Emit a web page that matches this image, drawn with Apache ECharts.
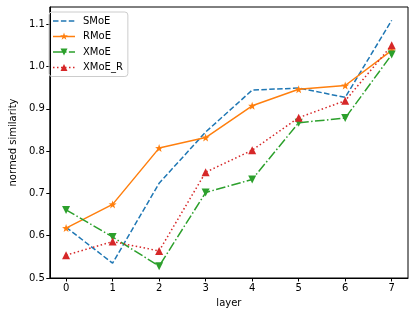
<!DOCTYPE html>
<html><head><meta charset="utf-8">
<script src="https://cdn.jsdelivr.net/npm/echarts@6/dist/echarts.min.js"></script>
<style>html,body{margin:0;padding:0;background:#fff}#c{width:415px;height:317px}</style>
</head><body><div id="c"></div>
<script>
const layers = [0,1,2,3,4,5,6,7];
const xTicks = [0,1,2,3,4,5,6,7];
const yTicks = [0.5,0.6,0.7,0.8,0.9,1.0,1.1];
const smoe  = [0.620,0.535,0.724,0.845,0.944,0.949,0.927,1.109];
const rmoe  = [0.618,0.674,0.807,0.832,0.907,0.946,0.955,1.038];
const xmoe  = [0.661,0.597,0.528,0.702,0.733,0.867,0.878,1.028];
const xmoeR = [0.554,0.586,0.564,0.750,0.802,0.879,0.919,1.050];

const font = 'DejaVu Sans';
function pts(v){ return layers.map((x,i)=>[x,v[i]]); }

// star path (for plot markers)
function starPath(cx, cy, R, r){
  let d = '';
  for (let i = 0; i < 10; i++){
    const a = -Math.PI/2 + i*Math.PI/5;
    const rr = i%2===0 ? R : r;
    d += (i===0?'M':'L') + (cx + rr*Math.cos(a)).toFixed(2) + ',' + (cy + rr*Math.sin(a)).toFixed(2) + ' ';
  }
  return d + 'Z ';
}
const star = 'path://' + starPath(50,50,50,20);

// legend icon builders (drawing units: 10 per px; icon box 250 x 90)
function rect(x0,x1){ return `M${x0},37.5 L${x1},37.5 L${x1},52.5 L${x0},52.5 Z `; }
function dashes(pattern, len){
  let d = '', x = 0, i = 0;
  while (x < len){
    const seg = pattern[i % pattern.length];
    if (i % 2 === 0) d += rect(x, Math.min(x+seg, len));
    x += seg; i++;
  }
  return d;
}
const specks = 'M0,0 L0.05,0 L0,0.05 Z M250,90 L249.95,90 L250,89.95 Z ';
const triDown = 'M75,10 L145,10 L110,80 Z ';
const triUp = 'M110,10 L145,80 L75,80 Z ';
const iconSMoE  = 'path://' + specks + dashes([55,24], 220);
const iconRMoE  = 'path://' + specks + rect(0,220) + starPath(110,45,40,16);
const iconXMoE  = 'path://' + specks + dashes([96,24,15,24], 220) + triDown;
const iconXMoER = 'path://' + specks + dashes([15,25], 220) + triUp;

const chart = echarts.init(document.getElementById('c'), null, {renderer:'canvas'});
chart.setOption({
  animation:false,
  textStyle:{fontFamily:font},
  grid:{left:45,right:7,top:7,bottom:39,show:true,borderColor:'#000',borderWidth:1,backgroundColor:'transparent'},
  legend:{
    orient:'vertical', left:49, top:12, itemWidth:25, itemHeight:9, itemGap:5.5,
    padding:[4,5,4,4], borderColor:'#ccc', borderWidth:1, borderRadius:3,
    textStyle:{fontFamily:font,fontSize:10,color:'#000'},
    itemStyle:{borderWidth:0}, lineStyle:{width:0},
    data:[
      {name:'SMoE', icon:iconSMoE},
      {name:'RMoE', icon:iconRMoE},
      {name:'XMoE', icon:iconXMoE},
      {name:'XMoE_R', icon:iconXMoER}
    ]
  },
  xAxis:{type:'value',min:-0.35,max:7.35,
    name:'layer',nameLocation:'middle',nameGap:20,nameTextStyle:{fontFamily:font,fontSize:10,color:'#000'},
    axisLine:{show:true,onZero:false,lineStyle:{color:'#000'}},
    axisTick:{show:true,length:3.5,customValues:xTicks,lineStyle:{color:'#000'}},
    axisLabel:{customValues:xTicks,fontFamily:font,fontSize:10,color:'#000',margin:5},
    splitLine:{show:false}},
  yAxis:{type:'value',min:0.5,max:1.1405,
    name:'normed similarity',nameLocation:'middle',nameGap:30,nameTextStyle:{fontFamily:font,fontSize:10,color:'#000'},
    axisLine:{show:true,onZero:false,lineStyle:{color:'#000'}},
    axisTick:{show:true,length:3.5,customValues:yTicks,lineStyle:{color:'#000'}},
    axisLabel:{customValues:yTicks,fontFamily:font,fontSize:10,color:'#000',margin:5,formatter:v=>v.toFixed(1)},
    splitLine:{show:false}},
  series:[
    {name:'SMoE',type:'line',data:pts(smoe),showSymbol:false,symbol:'none',
     itemStyle:{color:'#1f77b4'},lineStyle:{color:'#1f77b4',width:1.5,type:[5.5,2.4]}},
    {name:'RMoE',type:'line',data:pts(rmoe),symbol:star,symbolSize:8,
     itemStyle:{color:'#ff7f0e',borderWidth:0},lineStyle:{color:'#ff7f0e',width:1.5,type:'solid'}},
    {name:'XMoE',type:'line',data:pts(xmoe),symbol:'triangle',symbolRotate:180,symbolSize:8,
     itemStyle:{color:'#2ca02c',borderWidth:0},lineStyle:{color:'#2ca02c',width:1.5,type:[9.6,2.4,1.5,2.4]}},
    {name:'XMoE_R',type:'line',data:pts(xmoeR),symbol:'triangle',symbolSize:8,
     itemStyle:{color:'#d62728',borderWidth:0},lineStyle:{color:'#d62728',width:1.5,type:[1.5,2.5]}}
  ]
});
</script></body></html>
